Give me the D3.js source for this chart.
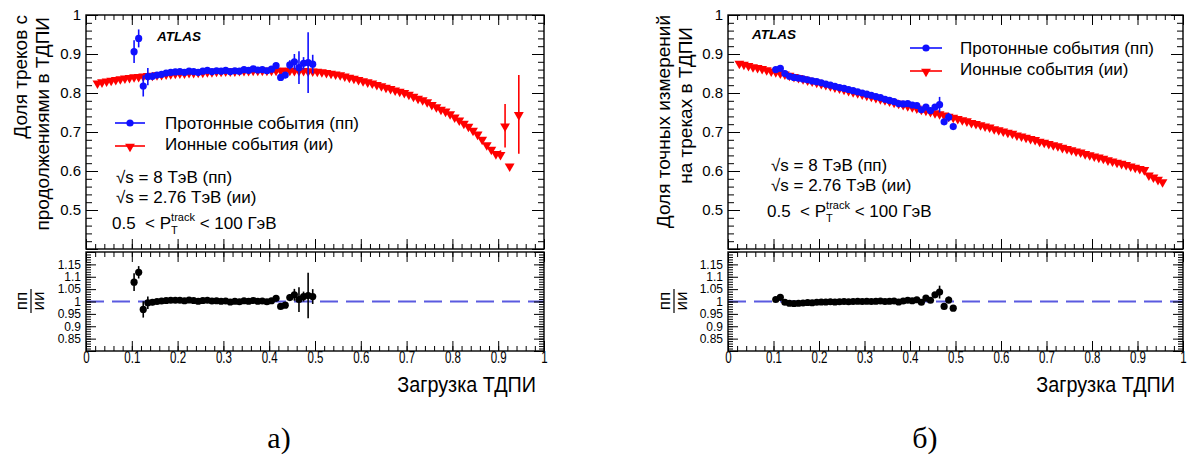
<!DOCTYPE html>
<html>
<head>
<meta charset="utf-8">
<script src="https://cdn.jsdelivr.net/npm/d3@7"></script>
<style>
  body { margin: 0; background: #fff; }
  svg { display: block; }
  text { font-family: "Liberation Sans", Arial, sans-serif; fill: #000; }
</style>
</head>
<body>
<svg id="chart" width="1187" height="455"></svg>
<script>
// ---------------- data ----------------
// TRT occupancy bin centres for the proton-proton sample (both panels)
const loadPp = [0.105,0.115,0.125,0.135,0.145,0.155,0.165,0.175,0.185,0.195,
                0.205,0.215,0.225,0.235,0.245,0.255,0.265,0.275,0.285,0.295,
                0.305,0.315,0.325,0.335,0.345,0.355,0.365,0.375,0.385,0.395,
                0.405,0.415,0.425,0.435,0.445,0.455,0.465,0.475,0.485,0.495];

// (a) fraction of tracks with TRT extensions
const ppFracA = [0.906,0.940,0.818,0.842,0.843,0.846,0.848,0.851,0.853,0.854,
                 0.855,0.853,0.856,0.855,0.853,0.856,0.858,0.855,0.857,0.856,
                 0.858,0.855,0.857,0.856,0.860,0.858,0.862,0.859,0.860,0.857,
                 0.861,0.870,0.840,0.846,0.872,0.880,0.865,0.876,0.878,0.874];
const ppErrA  = [0.029,0.023,0.027,0.022,0.010,0.006,0.004,0.004,0.004,0.004,
                 0.004,0.004,0.004,0.004,0.004,0.004,0.004,0.004,0.004,0.004,
                 0.004,0.004,0.004,0.004,0.004,0.004,0.004,0.004,0.004,0.004,
                 0.004,0.005,0.007,0.008,0.012,0.020,0.042,0.016,0.078,0.024];
const ratioA    = [1.078,1.118,0.968,0.995,0.997,1.000,1.002,1.004,1.005,1.005,
                   1.005,1.003,1.006,1.004,1.001,1.004,1.005,1.002,1.003,1.001,
                   1.002,0.998,1.001,0.999,1.003,1.001,1.004,1.001,1.002,0.999,
                   1.003,1.013,0.980,0.985,1.016,1.027,1.008,1.020,1.024,1.020];
const ratioErrA = [0.036,0.025,0.033,0.025,0.012,0.007,0.005,0.005,0.005,0.005,
                   0.005,0.005,0.005,0.005,0.005,0.005,0.005,0.005,0.005,0.005,
                   0.005,0.005,0.005,0.005,0.005,0.005,0.005,0.005,0.005,0.005,
                   0.005,0.006,0.008,0.009,0.014,0.024,0.050,0.020,0.092,0.030];

const loadIonA = [0.025,0.035,0.045,0.055,0.065,0.075,0.085,0.095,0.105,0.115,
                  0.125,0.135,0.145,0.155,0.165,0.175,0.185,0.195,0.205,0.215,
                  0.225,0.235,0.245,0.255,0.265,0.275,0.285,0.295,0.305,0.315,
                  0.325,0.335,0.345,0.355,0.365,0.375,0.385,0.395,0.405,0.415,
                  0.425,0.435,0.445,0.455,0.465,0.475,0.485,0.495,0.505,0.515,
                  0.525,0.535,0.545,0.555,0.565,0.575,0.585,0.595,0.605,0.615,
                  0.625,0.635,0.645,0.655,0.665,0.675,0.685,0.695,0.705,0.715,
                  0.725,0.735,0.745,0.755,0.765,0.775,0.785,0.795,0.805,0.815,
                  0.825,0.835,0.845,0.855,0.865,0.875,0.885,0.895,0.905,0.915,
                  0.925,0.945];
const ionFracA = [0.826,0.829,0.831,0.833,0.835,0.837,0.839,0.840,0.842,0.843,
                  0.844,0.845,0.846,0.847,0.848,0.849,0.850,0.851,0.852,0.852,
                  0.853,0.853,0.854,0.854,0.855,0.855,0.856,0.856,0.857,0.857,
                  0.857,0.858,0.858,0.858,0.859,0.859,0.859,0.859,0.859,0.859,
                  0.859,0.859,0.859,0.858,0.858,0.858,0.857,0.857,0.856,0.855,
                  0.853,0.851,0.849,0.847,0.844,0.841,0.838,0.835,0.832,0.829,
                  0.826,0.822,0.819,0.815,0.812,0.808,0.805,0.802,0.797,0.792,
                  0.787,0.783,0.778,0.771,0.765,0.759,0.754,0.747,0.739,0.731,
                  0.723,0.715,0.705,0.695,0.682,0.668,0.656,0.645,0.643,0.716,
                  0.613,0.745];
const ionErrA = [0,0,0,0,0,0,0,0,0,0, 0,0,0,0,0,0,0,0,0,0,
                 0,0,0,0,0,0,0,0,0,0, 0,0,0,0,0,0,0,0,0,0,
                 0,0,0,0,0,0,0,0,0,0, 0,0,0,0,0,0,0,0,0,0,
                 0,0,0,0,0,0,0,0,0,0, 0,0,0,0,0,0,0,0,0,0,
                 0,0,0,0,0,0,0,0,0.010,0.056, 0,0.101];

// (b) fraction of precision TRT hits on tracks
const ppFracB = [0.860,0.863,0.850,0.843,0.840,0.838,0.836,0.834,0.831,0.829,
                 0.826,0.823,0.820,0.817,0.814,0.812,0.809,0.806,0.803,0.800,
                 0.797,0.794,0.791,0.788,0.784,0.781,0.778,0.773,0.772,0.773,
                 0.769,0.768,0.757,0.764,0.755,0.764,0.770,0.726,0.738,0.714];
const ppErrB  = [0.003,0.003,0.003,0.003,0.003,0.003,0.003,0.003,0.003,0.003,
                 0.003,0.003,0.003,0.003,0.003,0.003,0.003,0.003,0.003,0.003,
                 0.003,0.003,0.003,0.003,0.003,0.003,0.003,0.003,0.003,0.003,
                 0.003,0.004,0.005,0.005,0.006,0.008,0.020,0.006,0.011,0.006];
const ratioB    = [1.008,1.017,0.997,0.993,0.992,0.993,0.994,0.996,0.995,0.997,
                   0.998,0.998,0.999,0.998,0.999,1.000,0.999,1.000,1.001,1.000,
                   1.001,1.000,1.001,1.002,1.000,1.001,1.002,0.998,1.002,1.005,
                   1.003,1.007,0.997,1.014,1.005,1.027,1.038,0.980,1.006,0.973];
const ratioErrB = [0.004,0.004,0.004,0.004,0.004,0.004,0.004,0.004,0.004,0.004,
                   0.004,0.004,0.004,0.004,0.004,0.004,0.004,0.004,0.004,0.004,
                   0.004,0.004,0.004,0.004,0.004,0.004,0.004,0.004,0.004,0.004,
                   0.004,0.005,0.006,0.006,0.008,0.010,0.026,0.008,0.014,0.008];

const loadIonB = [0.025,0.035,0.045,0.055,0.065,0.075,0.085,0.095,0.105,0.115,
                  0.125,0.135,0.145,0.155,0.165,0.175,0.185,0.195,0.205,0.215,
                  0.225,0.235,0.245,0.255,0.265,0.275,0.285,0.295,0.305,0.315,
                  0.325,0.335,0.345,0.355,0.365,0.375,0.385,0.395,0.405,0.415,
                  0.425,0.435,0.445,0.455,0.465,0.475,0.485,0.495,0.505,0.515,
                  0.525,0.535,0.545,0.555,0.565,0.575,0.585,0.595,0.605,0.615,
                  0.625,0.635,0.645,0.655,0.665,0.675,0.685,0.695,0.705,0.715,
                  0.725,0.735,0.745,0.755,0.765,0.775,0.785,0.795,0.805,0.815,
                  0.825,0.835,0.845,0.855,0.865,0.875,0.885,0.895,0.905,0.915,
                  0.925,0.935,0.945,0.955];
const ionFracB = [0.877,0.874,0.871,0.868,0.866,0.863,0.860,0.857,0.855,0.852,
                  0.849,0.846,0.843,0.840,0.837,0.834,0.831,0.828,0.825,0.822,
                  0.819,0.816,0.813,0.810,0.807,0.804,0.801,0.798,0.795,0.792,
                  0.789,0.786,0.783,0.780,0.777,0.774,0.771,0.768,0.765,0.762,
                  0.759,0.756,0.753,0.750,0.747,0.744,0.741,0.738,0.735,0.732,
                  0.729,0.725,0.722,0.719,0.716,0.713,0.709,0.706,0.703,0.700,
                  0.697,0.693,0.690,0.687,0.684,0.681,0.677,0.674,0.671,0.668,
                  0.665,0.661,0.658,0.655,0.652,0.649,0.645,0.642,0.639,0.636,
                  0.633,0.629,0.626,0.623,0.620,0.617,0.613,0.610,0.607,0.604,
                  0.590,0.585,0.579,0.573];

// axis tick values
const xMajor = [0,0.1,0.2,0.3,0.4,0.5,0.6,0.7,0.8,0.9,1];
const xLabels = ["0","0.1","0.2","0.3","0.4","0.5","0.6","0.7","0.8","0.9","1"];
const yMajor = [0.4,0.5,0.6,0.7,0.8,0.9,1.0];
const yLabels = ["","0.5","0.6","0.7","0.8","0.9","1"];
const rMajor = [0.8,0.85,0.9,0.95,1,1.05,1.1,1.15,1.2];
const rLabels = ["","0.85","0.9","0.95","1","1.05","1.1","1.15",""];

// texts
const legendPp = "Протонные события (пп)";
const legendIon = "Ионные события (ии)";
const energyPp = "√s = 8 ТэВ (пп)";
const energyIon = "√s = 2.76 ТэВ (ии)";
const xTitle = "Загрузка ТДПИ";
const yTitlesA = ["Доля треков с", "продолжениями в ТДПИ"];
const yTitlesB = ["Доля точных измерений", "на треках в ТДПИ"];

// ---------------- drawing ----------------
const svg = d3.select("#chart");
const BLUE = "#1010ff", RED = "#ff0000", BLACK = "#000";
const TOP = [249, 15], RAT = [351, 252];   // [bottom, top] of each pad

function range(a, b, s) { const out = []; for (let v = a; v <= b + 1e-9; v += s) out.push(+v.toFixed(4)); return out; }

function mirroredAxes(g, x, y, yTicks, yTickLbl, yMinorStep, yMajLen, yMinLen, showXLabels) {
  const [x0, x1] = x.range();
  const [yb, yt] = y.range();
  const xMinor = range(0, 1, 0.02);
  const yDom = y.domain();
  const yMinor = range(yDom[0], yDom[1], yMinorStep);

  // bottom x
  const bx = g.append("g").attr("transform", `translate(0,${yb})`);
  bx.append("g").call(d3.axisBottom(x).tickValues(xMinor).tickSize(-5).tickFormat(""));
  const bxm = bx.append("g").call(d3.axisBottom(x).tickValues(xMajor).tickSize(-10).tickPadding(1)
      .tickFormat((d, i) => showXLabels ? xLabels[i] : ""));
  // top x
  const tx = g.append("g").attr("transform", `translate(0,${yt})`);
  tx.append("g").call(d3.axisTop(x).tickValues(xMinor).tickSize(-5).tickFormat(""));
  tx.append("g").call(d3.axisTop(x).tickValues(xMajor).tickSize(-10).tickFormat(""));
  // left y
  const ly = g.append("g").attr("transform", `translate(${x0},0)`);
  ly.append("g").call(d3.axisLeft(y).tickValues(yMinor).tickSize(-yMinLen).tickFormat(""));
  const lym = ly.append("g").call(d3.axisLeft(y).tickValues(yTicks).tickSize(-yMajLen).tickPadding(5)
      .tickFormat((d, i) => yTickLbl[i]));
  // right y
  const ry = g.append("g").attr("transform", `translate(${x1},0)`);
  ry.append("g").call(d3.axisRight(y).tickValues(yMinor).tickSize(-yMinLen).tickFormat(""));
  ry.append("g").call(d3.axisRight(y).tickValues(yTicks).tickSize(-yMajLen).tickFormat(""));

  g.selectAll(".domain").remove();
  g.selectAll(".tick line").attr("stroke", "#000").attr("stroke-width", 1);
  return { bxm, lym };
}

function frame(g, x, y) {
  const [x0, x1] = x.range();
  const [yb, yt] = y.range();
  g.append("rect").attr("x", x0).attr("y", yt).attr("width", x1 - x0).attr("height", yb - yt)
    .attr("fill", "none").attr("stroke", "#000").attr("stroke-width", 1.4);
}

function series(g, x, y, loads, vals, errs, color, shape) {
  const pts = loads.map((l, i) => ({ l, v: vals[i], e: errs ? errs[i] : 0 }));
  const s = g.append("g");
  // horizontal bin-width bars
  s.selectAll("line.h").data(pts).join("line")
    .attr("x1", d => x(d.l - 0.005)).attr("x2", d => x(d.l + 0.005))
    .attr("y1", d => y(d.v)).attr("y2", d => y(d.v))
    .attr("stroke", color).attr("stroke-width", 1.6);
  // vertical error bars
  s.selectAll("line.v").data(pts.filter(d => d.e > 0)).join("line")
    .attr("x1", d => x(d.l)).attr("x2", d => x(d.l))
    .attr("y1", d => y(d.v - d.e)).attr("y2", d => y(d.v + d.e))
    .attr("stroke", color).attr("stroke-width", 1.6);
  if (shape === "circle") {
    s.selectAll("circle").data(pts).join("circle")
      .attr("cx", d => x(d.l)).attr("cy", d => y(d.v)).attr("r", 3.6).attr("fill", color);
  } else {
    const tri = d3.symbol(d3.symbolTriangle, 42)();
    s.selectAll("path").data(pts).join("path")
      .attr("d", tri).attr("fill", color)
      .attr("transform", d => `translate(${x(d.l)},${y(d.v) + 0.5}) rotate(180)`);
  }
}

function panel(p) {
  const g = svg.append("g");
  const x = d3.scaleLinear().domain([0, 1]).range([p.left, p.right]);
  const y = d3.scaleLinear().domain([0.4, 1.0]).range(TOP);
  const yr = d3.scaleLinear().domain([0.8, 1.2]).range(RAT);

  // upper pad
  const up = g.append("g");
  series(up, x, y, p.loadIon, p.ionFrac, p.ionErr, RED, "tri");
  series(up, x, y, loadPp, p.ppFrac, p.ppErr, BLUE, "circle");
  const a1 = mirroredAxes(up, x, y, yMajor, yLabels, 0.02, 12, 6, false);
  a1.lym.selectAll("text").style("font-size", "15px");
  frame(up, x, y);

  // ratio pad
  const lo = g.append("g");
  lo.append("line").attr("x1", p.left).attr("x2", p.right).attr("y1", yr(1)).attr("y2", yr(1))
    .attr("stroke", "#5a5ae0").attr("stroke-width", 2).attr("stroke-dasharray", "18,8");
  series(lo, x, yr, loadPp, p.ratio, p.ratioErr, BLACK, "circle");
  const a2 = mirroredAxes(lo, x, yr, rMajor, rLabels, 0.01, 10, 5, true);
  a2.lym.selectAll("text").style("font-size", "12px");
  a2.bxm.selectAll("text").style("font-size", "16px").attr("transform", "scale(0.72,1)");
  frame(lo, x, yr);

  // titles
  g.append("text").attr("transform", `translate(${p.right - 8},392) scale(0.9,1)`)
    .attr("text-anchor", "end").style("font-size", "22px").text(xTitle);
  p.yTitles.forEach((t, i) => {
    g.append("text").attr("transform", `translate(${p.titleX[i]},${p.titleEnd[i]}) rotate(-90)`)
      .attr("text-anchor", "end").style("font-size", "19px").text(t);
  });
  // ratio title: пп over ии
  const fr = g.append("g").attr("transform", `translate(${p.fracX},301) rotate(-90)`);
  fr.append("text").attr("text-anchor", "middle").attr("y", -4).style("font-size", "17px").text("пп");
  fr.append("line").attr("x1", -12).attr("x2", 12).attr("y1", 0).attr("y2", 0).attr("stroke", "#000").attr("stroke-width", 1.2);
  fr.append("text").attr("text-anchor", "middle").attr("y", 13).style("font-size", "17px").text("ии");

  // ATLAS label
  g.append("text").attr("x", p.atlas[0]).attr("y", p.atlas[1])
    .style("font-size", "13.5px").style("font-weight", "bold").style("font-style", "italic").text("ATLAS");

  // legend
  const lg = g.append("g");
  const L = p.legend;
  lg.append("line").attr("x1", L.x0).attr("x2", L.x1).attr("y1", L.y0).attr("y2", L.y0).attr("stroke", BLUE).attr("stroke-width", 1.6);
  lg.append("circle").attr("cx", (L.x0 + L.x1) / 2).attr("cy", L.y0).attr("r", 3.6).attr("fill", BLUE);
  lg.append("text").attr("x", L.tx).attr("y", L.y0 + 6).style("font-size", "17px").text(legendPp);
  lg.append("line").attr("x1", L.x0).attr("x2", L.x1).attr("y1", L.y1).attr("y2", L.y1).attr("stroke", RED).attr("stroke-width", 1.6);
  lg.append("path").attr("d", d3.symbol(d3.symbolTriangle, 42)()).attr("fill", RED)
    .attr("transform", `translate(${(L.x0 + L.x1) / 2},${L.y1 + 0.5}) rotate(180)`);
  lg.append("text").attr("x", L.tx).attr("y", L.y1 + 4).style("font-size", "17px").text(legendIon);

  // energies and pT range
  g.append("text").attr("x", p.info[0]).attr("y", p.info[1]).style("font-size", "17px").text(energyPp);
  g.append("text").attr("x", p.info[0]).attr("y", p.info[1] + 20).style("font-size", "17px").text(energyIon);
  const pt = g.append("text").attr("x", p.pt[0]).attr("y", p.pt[1]).style("font-size", "17px").style("white-space", "pre").text("0.5  < P");
  const w0 = pt.node().getComputedTextLength();
  g.append("text").attr("x", p.pt[0] + w0).attr("y", p.pt[1] + 5).style("font-size", "11px").text("T");
  const tr = g.append("text").attr("x", p.pt[0] + w0).attr("y", p.pt[1] - 8).style("font-size", "11px").text("track");
  const w1 = tr.node().getComputedTextLength();
  g.append("text").attr("x", p.pt[0] + w0 + w1).attr("y", p.pt[1]).style("font-size", "17px").style("white-space", "pre").text(" < 100 ГэВ");

  // panel letter
  g.append("text").attr("x", p.letterX).attr("y", 448).attr("text-anchor", "middle")
    .style("font-family", "'Liberation Serif', 'Times New Roman', serif").style("font-size", "30px").text(p.letter);
}

panel({
  left: 86, right: 544,
  loadIon: loadIonA, ionFrac: ionFracA, ionErr: ionErrA,
  ppFrac: ppFracA, ppErr: ppErrA, ratio: ratioA, ratioErr: ratioErrA,
  yTitles: yTitlesA, titleX: [27, 49], titleEnd: [15, 17], fracX: 31,
  atlas: [157, 41],
  legend: { x0: 115, x1: 145, y0: 123, y1: 146, tx: 165 },
  info: [116, 183], pt: [112, 229],
  letter: "а)", letterX: 279
});
panel({
  left: 728, right: 1183,
  loadIon: loadIonB, ionFrac: ionFracB, ionErr: null,
  ppFrac: ppFracB, ppErr: ppErrB, ratio: ratioB, ratioErr: ratioErrB,
  yTitles: yTitlesB, titleX: [670, 692], titleEnd: [15, 27], fracX: 674,
  atlas: [752, 39],
  legend: { x0: 910, x1: 942, y0: 48, y1: 71, tx: 960 },
  info: [771, 171], pt: [767, 217],
  letter: "б)", letterX: 925
});
</script>
</body>
</html>
